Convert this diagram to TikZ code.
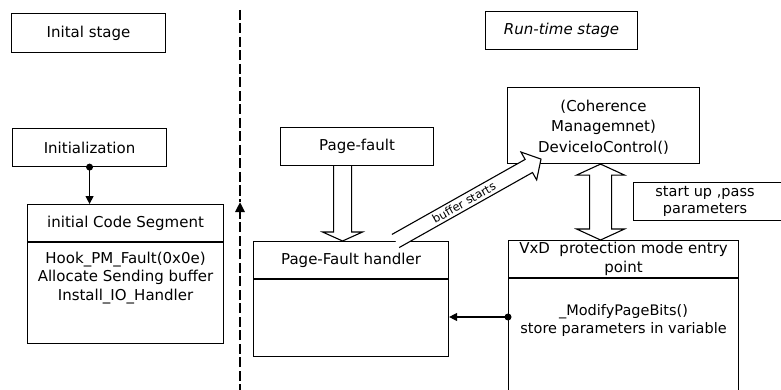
\documentclass[tikz,border=0pt]{standalone}
\usepackage{fontspec}
\setmainfont{DejaVu Sans}
\usetikzlibrary{calc,arrows.meta}

\begin{document}
\begin{tikzpicture}[x=1pt,y=-1pt,
  every node/.style={font=\fontsize{15}{18.5}\selectfont, inner sep=0pt},
  box/.style={draw, line width=1.1pt, fill=white},
  divider/.style={line width=1.1pt},
  conn/.style={line width=1.3pt, -{Triangle[width=8pt,length=8pt]}},
  hollow/.style={draw, line width=1.1pt, fill=white, line join=miter},
  stagebar/.style={line width=2.8pt, dash pattern=on 10pt off 3.5pt}
]
\useasboundingbox (0,0) rectangle (781,390);

% ---- stage captions ----
\node[box, minimum width=154pt, minimum height=39pt, anchor=north west] (initstage) at (11,13) {Inital stage};
\node[box, minimum width=152pt, minimum height=38pt, anchor=north west,
      font=\fontsize{15}{18.5}\selectfont\itshape] (runstage) at (485,11) {Run-time stage};

% ---- dashed separator between the two stages ----
\coordinate (bartop) at (240,10);
\coordinate (barmid) at (240,202);
\coordinate (barbot) at (240,394);
\draw[stagebar] (bartop) -- (barmid);
\draw[stagebar, -{Triangle[width=9pt,length=10pt]}] (barbot) -- (barmid);

% ---- initial stage ----
\node[box, minimum width=154pt, minimum height=38pt, anchor=north west] (init) at (12,128) {Initialization};

\node[box, minimum width=196pt, minimum height=139pt, anchor=north west] (cs) at (27,204) {};
\draw[divider] ([yshift=-38pt]cs.north west) -- ([yshift=-38pt]cs.north east);
\node (cstitle) at ([yshift=-19pt]cs.north) {initial Code Segment};
\node[anchor=north, align=center] (csbody) at ([yshift=-47.5pt]cs.north)
  {Hook\_PM\_Fault(0x0e)\\Allocate Sending buffer\\Install\_IO\_Handler};

\draw[conn] (init.south) -- (init.south |- cs.north);
\fill (init.south) circle (3.5pt);

% ---- run-time stage ----
\node[box, minimum width=153pt, minimum height=38pt, anchor=north west] (pf) at (280,127) {Page-fault};

\node[box, minimum width=195pt, minimum height=115pt, anchor=north west] (pfh) at (253,241) {};
\draw[divider] ([yshift=-38pt]pfh.north west) -- ([yshift=-38pt]pfh.north east);
\node (pfhtitle) at ([yshift=-19pt]pfh.north) {Page-Fault handler};

\node[box, minimum width=192pt, minimum height=76pt, anchor=north west] (coh) at (507,87) {};
\node[align=center, font=\fontsize{15}{20.5}\selectfont] (cohtext) at ([yshift=-1.5pt]coh.center)
  {(Coherence\\Managemnet)\\DeviceIoControl()};

\node[box, minimum width=152pt, minimum height=38pt, anchor=north west] (sbox) at (633,182) {};
\node[align=center, font=\fontsize{14.5}{17}\selectfont] (stext) at (705,201.5) {start up ,pass\\parameters};

\node[box, minimum width=230pt, minimum height=165pt, anchor=north west] (vxd) at (508,240) {};
\draw[divider] ([yshift=-38pt]vxd.north west) -- ([yshift=-38pt]vxd.north east);
\node[align=center, font=\fontsize{15}{19}\selectfont] (vxdtitle) at ([yshift=-19pt]vxd.north)
  {VxD~~protection mode entry\\point};
\node[anchor=north, align=center, font=\fontsize{14.5}{18}\selectfont] (vxdbody) at ([yshift=-64pt]vxd.north)
  {\_ModifyPageBits()\\store parameters in variable};

% call from the entry point into the page-fault handler
\coordinate (vxdport) at ([yshift=-77pt]vxd.north west);
\draw[conn] (vxdport) -- (vxdport -| pfh.east);
\fill (vxdport) circle (3.5pt);

% hollow arrow: page fault raises the handler
\coordinate (pfa) at ([xshift=-14.5pt]pf.south);
\coordinate (pfb) at (pfa |- pfh.north);
\draw[hollow] ($(pfa)+(-9,0)$) -- ($(pfb)+(-9,-9)$) -- ($(pfb)+(-20,-9)$) -- (pfb)
  -- ($(pfb)+(20,-9)$) -- ($(pfb)+(9,-9)$) -- ($(pfa)+(9,0)$);

% hollow double arrow between DeviceIoControl and the VxD entry point
\coordinate (dat) at ([xshift=-3pt]coh.south);
\coordinate (dab) at (dat |- vxd.north);
\draw[hollow] (dat) -- ($(dat)+(24,11)$) -- ($(dat)+(11,11)$) -- ($(dab)+(11,-11)$)
  -- ($(dab)+(24,-11)$) -- (dab) -- ($(dab)+(-24,-11)$) -- ($(dab)+(-11,-11)$)
  -- ($(dat)+(-11,11)$) -- ($(dat)+(-24,11)$) -- cycle;

% hollow slanted arrow: buffer starts
\coordinate (bt) at ([xshift=44.5pt]pfh.north);
\coordinate (bh) at ([xshift=34pt,yshift=5pt]coh.south west);
\coordinate (bb) at ($(bh)!14pt!(bt)$);
\draw[hollow] ($(bt)!7.5pt!90:(bh)$) -- ($(bb)!7.5pt!-90:(bt)$) -- ($(bb)!16pt!-90:(bt)$) -- (bh)
  -- ($(bb)!16pt!90:(bt)$) -- ($(bb)!7.5pt!90:(bt)$) -- ($(bt)!7.5pt!-90:(bh)$);
\path (bt) -- (bh) node[pos=0.47, sloped, font=\fontsize{11.5}{13}\selectfont] (btext) {buffer starts};
\end{tikzpicture}
\end{document}
